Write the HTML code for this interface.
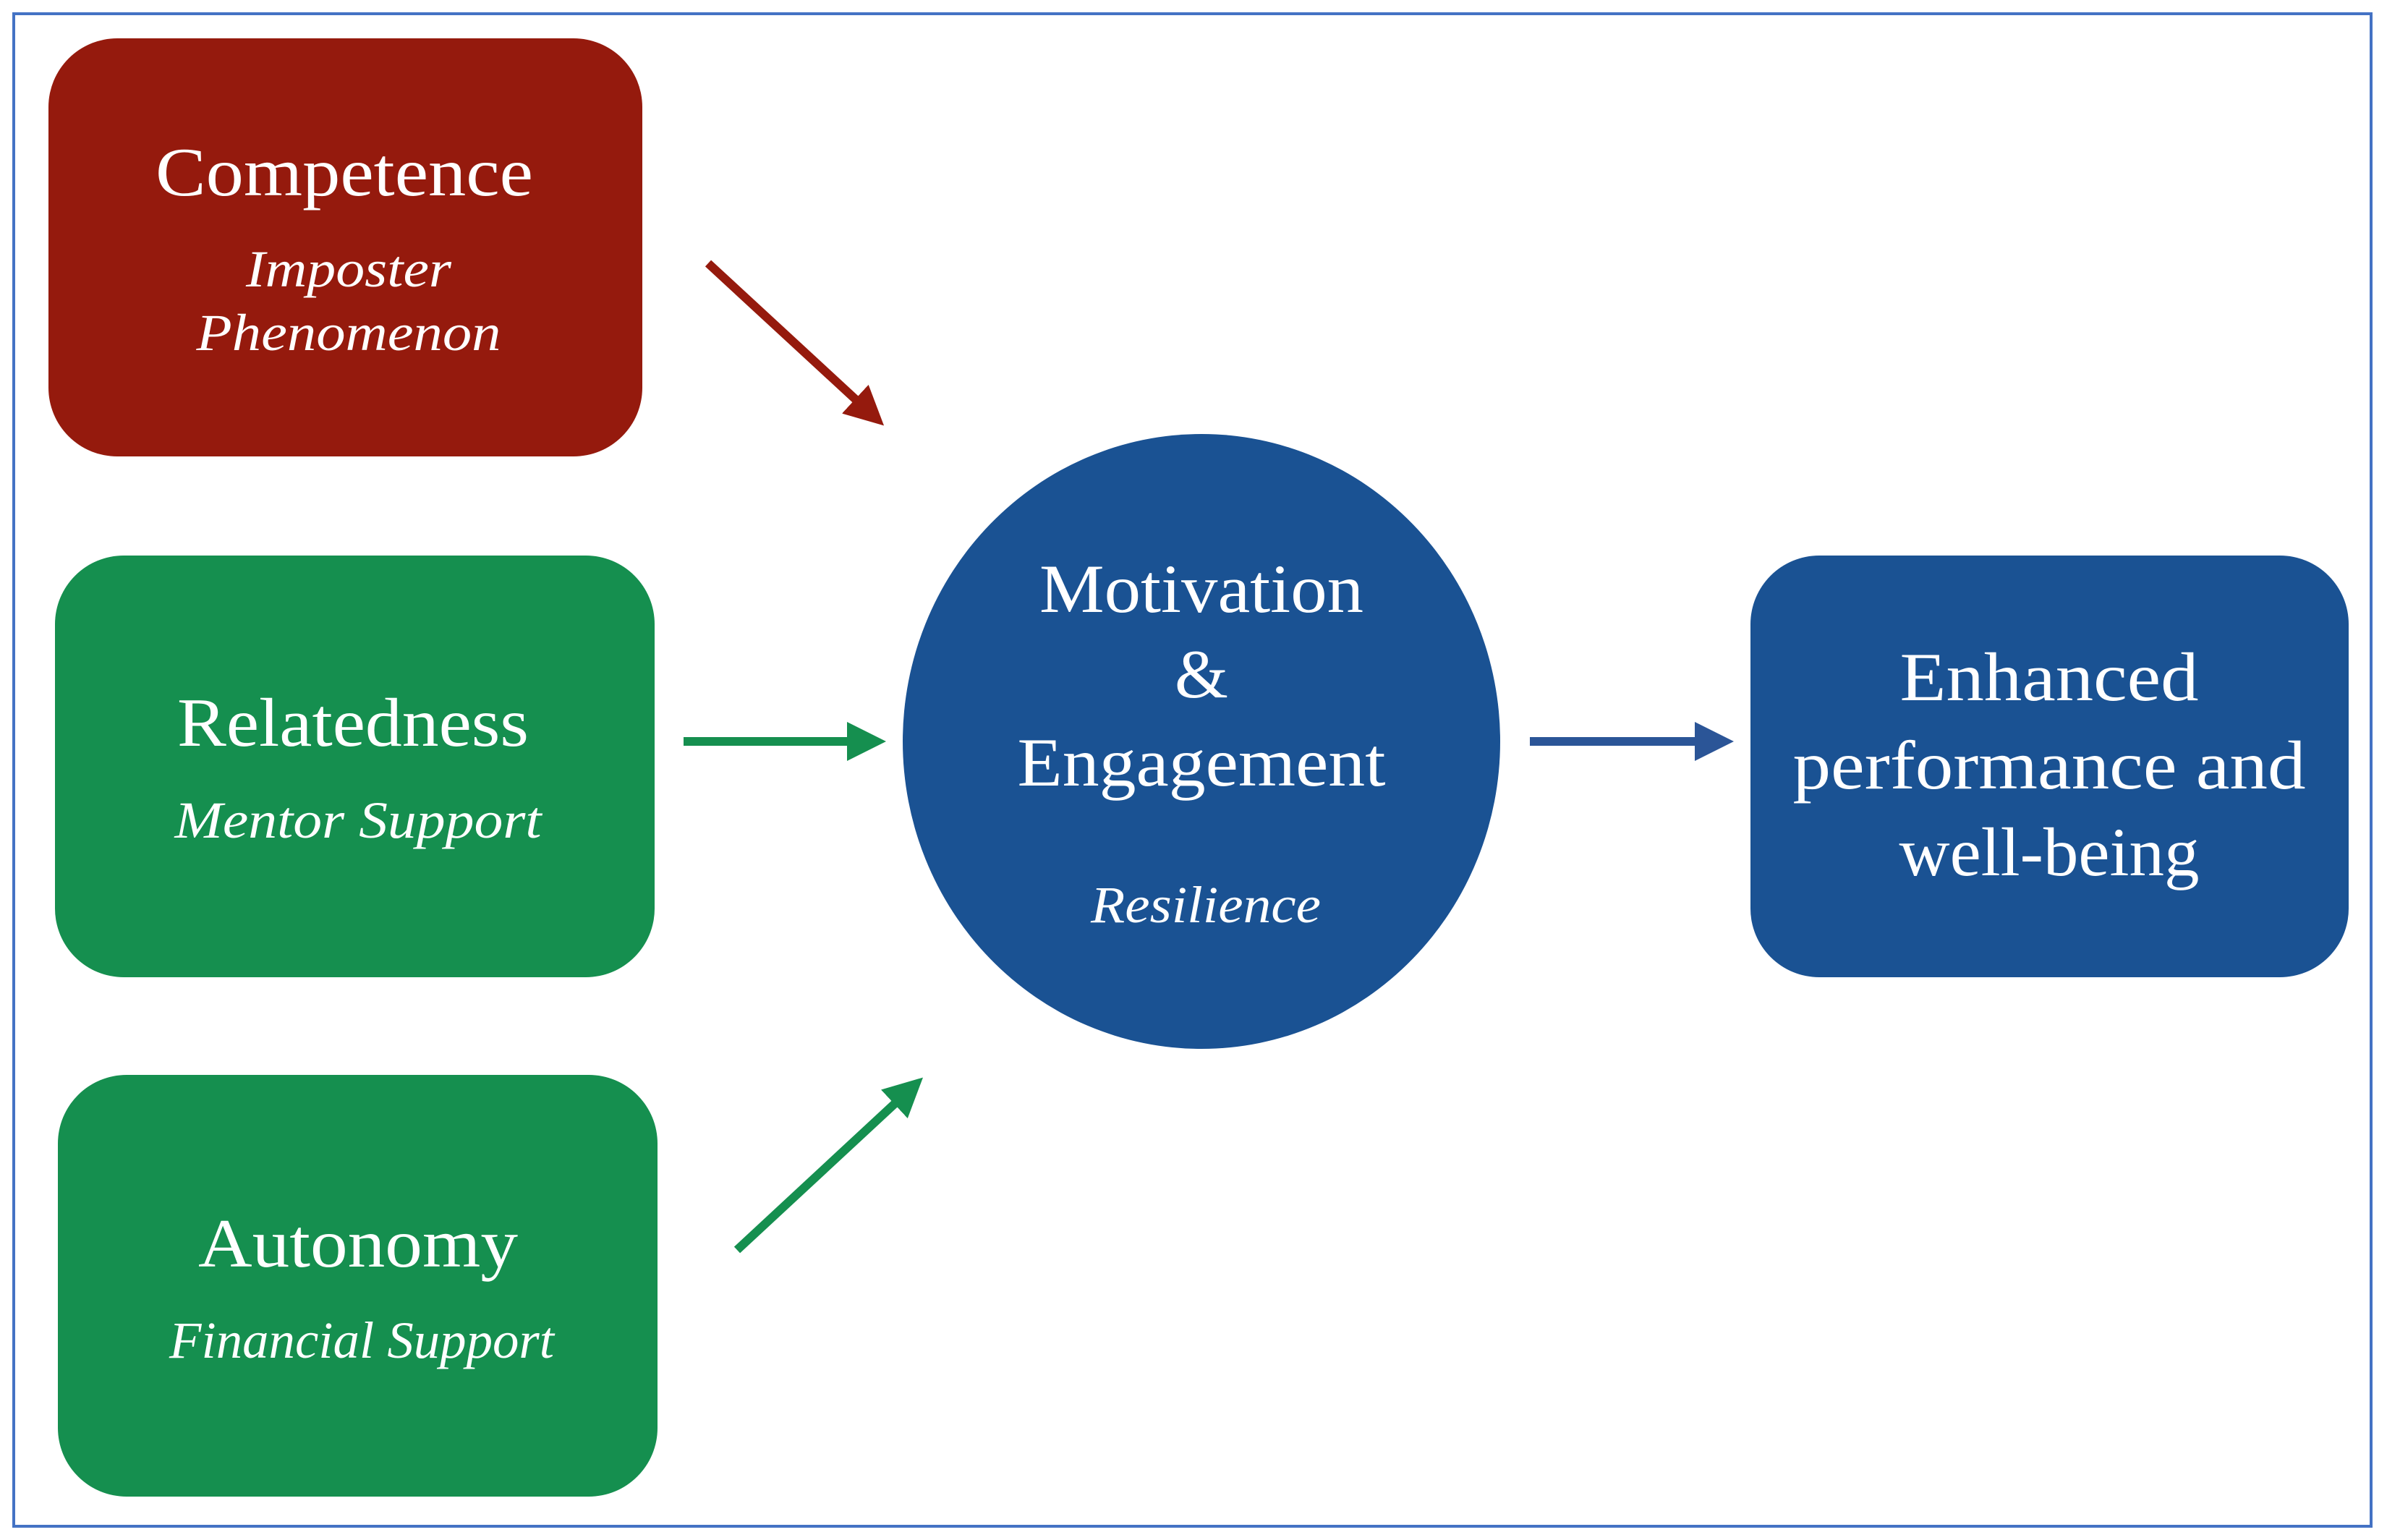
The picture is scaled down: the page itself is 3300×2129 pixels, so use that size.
<!DOCTYPE html>
<html><head><meta charset="utf-8"><style>html,body{margin:0;padding:0;background:#fff}svg{display:block}</style></head>
<body>
<svg width="3300" height="2129" viewBox="0 0 3300 2129" xmlns="http://www.w3.org/2000/svg" font-family="'Liberation Serif', serif">
<defs>
<marker id="mr" markerWidth="4.5" markerHeight="4.5" refX="2" refY="2.25" orient="auto" markerUnits="strokeWidth"><path d="M0,0 L4.5,2.25 L0,4.5 Z" fill="#951a0d"/></marker>
<marker id="mg" markerWidth="4.5" markerHeight="4.5" refX="2" refY="2.25" orient="auto" markerUnits="strokeWidth"><path d="M0,0 L4.5,2.25 L0,4.5 Z" fill="#158f4f"/></marker>
<marker id="mb" markerWidth="4.5" markerHeight="4.5" refX="2" refY="2.25" orient="auto" markerUnits="strokeWidth"><path d="M0,0 L4.5,2.25 L0,4.5 Z" fill="#2b5597"/></marker>
</defs>
<rect x="19" y="19" width="3259" height="2091" fill="none" stroke="#4472c4" stroke-width="4"/>
<rect x="67" y="53" width="821" height="578" rx="95" fill="#951a0d"/>
<rect x="76" y="768" width="829" height="583" rx="95" fill="#158f4f"/>
<rect x="80" y="1486" width="829" height="583" rx="95" fill="#158f4f"/>
<ellipse cx="1661" cy="1025" rx="413" ry="425" fill="#1a5293"/>
<rect x="2420" y="768" width="827" height="583" rx="95" fill="#1a5293"/>
<line x1="979" y1="364" x2="1200" y2="568" stroke="#951a0d" stroke-width="12" marker-end="url(#mr)"/>
<line x1="945" y1="1025" x2="1195" y2="1025" stroke="#158f4f" stroke-width="12" marker-end="url(#mg)"/>
<line x1="1019" y1="1728" x2="1254" y2="1510" stroke="#158f4f" stroke-width="12" marker-end="url(#mg)"/>
<line x1="2115" y1="1025" x2="2367" y2="1025" stroke="#2b5597" stroke-width="12" marker-end="url(#mb)"/>
<g fill="#fff" text-anchor="middle" font-size="95">
<text x="476" y="270" textLength="522" lengthAdjust="spacingAndGlyphs">Competence</text>
<text x="488" y="1031" textLength="486" lengthAdjust="spacingAndGlyphs">Relatedness</text>
<text x="495" y="1751" textLength="442" lengthAdjust="spacingAndGlyphs">Autonomy</text>
<text x="1661" y="846" textLength="448" lengthAdjust="spacingAndGlyphs">Motivation</text>
<text x="1661" y="964">&amp;</text>
<text x="1661" y="1086" textLength="509" lengthAdjust="spacingAndGlyphs">Engagement</text>
<text x="2833" y="968" textLength="413" lengthAdjust="spacingAndGlyphs">Enhanced</text>
<text x="2833" y="1090" textLength="709" lengthAdjust="spacingAndGlyphs">performance and</text>
<text x="2833" y="1210" textLength="415" lengthAdjust="spacingAndGlyphs">well-being</text>
</g>
<g fill="#fff" text-anchor="middle" font-size="72" font-style="italic">
<text x="482" y="396" textLength="284" lengthAdjust="spacingAndGlyphs">Imposter</text>
<text x="482" y="484" textLength="421" lengthAdjust="spacingAndGlyphs">Phenomenon</text>
<text x="495" y="1158" textLength="507" lengthAdjust="spacingAndGlyphs">Mentor Support</text>
<text x="500" y="1877" textLength="532" lengthAdjust="spacingAndGlyphs">Financial Support</text>
<text x="1667" y="1275" textLength="318" lengthAdjust="spacingAndGlyphs">Resilience</text>
</g>
</svg>
</body></html>
